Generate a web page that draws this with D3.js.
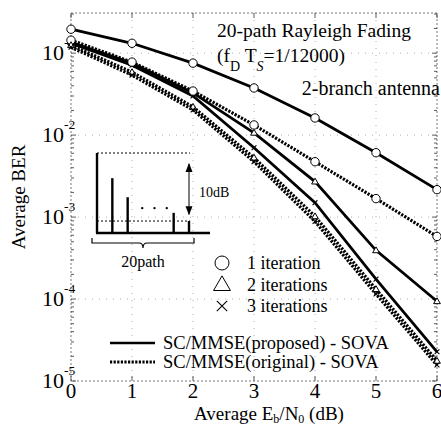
<!DOCTYPE html>
<html><head><meta charset="utf-8">
<script src="https://cdn.jsdelivr.net/npm/d3@7"></script>
<style>body{margin:0;background:#fff}svg{display:block}text{font-family:"Liberation Serif","Times New Roman",serif;fill:#000}</style>
</head><body><svg id="c" width="441" height="426"></svg>
<script>
// ---- data ----
const ebn0 = [0,1,2,3,4,5,6];
const propIter1 = [0.196,0.132,0.0756,0.0376,0.0162,0.0061,0.00216];
const propIter2 = [0.136,0.0756,0.0327,0.01067,0.00271,0.000393,0.000094];
const propIter3 = [0.132,0.0714,0.0301,0.00702,0.00150,0.000175,0.0000227];
const origIter1 = [0.144,0.0778,0.0345,0.0133,0.00474,0.00168,0.00058];
const origIter2 = [0.125,0.0587,0.0221,0.0053,0.00102,0.000132,0.0000176];
const origIter3 = [0.118,0.054,0.0203,0.00474,0.000885,0.000115,0.0000157];
const xTicks = [0,1,2,3,4,5,6];
const yTickExp = [-1,-2,-3,-4,-5];
const iterLabels = ["1 iteration","2 iterations","3 iterations"];
const schemeLabels = ["SC/MMSE(proposed) - SOVA","SC/MMSE(original) - SOVA"];
// inset power-delay profile (schematic)
const insetPos = [0,1,2,5,6];
const insetDb = [0,-3.7,-6.5,-8.8,-10];
const insetDots = [2.95,3.75,4.55];

const svg = d3.select("#c");
const L=71, R=437, T=13, B=381;
const x = d3.scaleLinear().domain([0,6]).range([L,R]);
const y = d3.scaleLog().domain([1e-5, Math.pow(10,-0.51)]).range([B,T]);

// grid
const g = svg.append("g");
xTicks.forEach(v=>{ if(v>0&&v<6) g.append("line").attr("x1",x(v)).attr("x2",x(v)).attr("y1",T).attr("y2",B)
  .attr("stroke","#999").attr("stroke-width",0.8).attr("stroke-dasharray","1,6");});
yTickExp.forEach(e=>{ if(e>-5) g.append("line").attr("x1",L).attr("x2",R).attr("y1",y(Math.pow(10,e))).attr("y2",y(Math.pow(10,e)))
  .attr("stroke","#999").attr("stroke-width",0.8).attr("stroke-dasharray","1,6");});
// frame
g.append("rect").attr("x",L).attr("y",T).attr("width",R-L).attr("height",B-T).attr("fill","none")
  .attr("stroke","#555").attr("stroke-width",0.8).attr("stroke-dasharray","2,2");
// minor ticks
const minors=[];
for(let e=-5;e<0;e++) for(let m=1;m<10;m++){const v=m*Math.pow(10,e); if(v<=Math.pow(10,-0.51)) minors.push({v,major:m===1});}
minors.forEach(d=>{
  const len=d.major?5:3;
  g.append("line").attr("x1",L).attr("x2",L+len).attr("y1",y(d.v)).attr("y2",y(d.v)).attr("stroke","#333").attr("stroke-width",0.8);
  g.append("line").attr("x1",R).attr("x2",R-len).attr("y1",y(d.v)).attr("y2",y(d.v)).attr("stroke","#333").attr("stroke-width",0.8);
});
xTicks.forEach(v=>{
  g.append("line").attr("x1",x(v)).attr("x2",x(v)).attr("y1",B).attr("y2",B-5).attr("stroke","#333").attr("stroke-width",0.8);
  g.append("line").attr("x1",x(v)).attr("x2",x(v)).attr("y1",T).attr("y2",T+5).attr("stroke","#333").attr("stroke-width",0.8);
});

// tick labels
xTicks.forEach(v=>{
  svg.append("text").attr("x",x(v)).attr("y",398).attr("text-anchor","middle").attr("font-size",21).text(v);
});
yTickExp.forEach(e=>{
  svg.append("text").attr("x",64).attr("y",y(Math.pow(10,e))+7).attr("text-anchor","end").attr("font-size",22).text("10");
  svg.append("text").attr("x",64).attr("y",y(Math.pow(10,e))-6).attr("font-size",13.5).text("-"+(-e));
});

// axis titles
const xl = svg.append("text").attr("x",269).attr("y",420).attr("text-anchor","middle").attr("font-size",19);
xl.append("tspan").text("Average E");
xl.append("tspan").attr("dy",3).attr("font-size",12).text("b");
xl.append("tspan").attr("dy",-3).text("/N");
xl.append("tspan").attr("dy",3).attr("font-size",12).text("0");
xl.append("tspan").attr("dy",-3).text(" (dB)");
svg.append("text").attr("transform","translate(25,197) rotate(-90)").attr("text-anchor","middle").attr("font-size",19).text("Average BER");

// curves
const line = d3.line().x((d,i)=>x(ebn0[i])).y(d=>y(d));
const DASH="2.2,1.4";
const series = [
  {v:propIter1,dash:null,mk:"o"},{v:propIter2,dash:null,mk:"t"},{v:propIter3,dash:null,mk:"x"},
  {v:origIter1,dash:DASH,mk:"o"},{v:origIter2,dash:DASH,mk:"t"},{v:origIter3,dash:DASH,mk:"x"}
];
const cg = svg.append("g");
series.forEach(s=>{
  cg.append("path").attr("d",line(s.v)).attr("fill","none").attr("stroke","#000")
   .attr("stroke-width",s.dash?3.2:2.8).attr("stroke-dasharray",s.dash);
});
function marker(sel,type,cx,cy,r){
  if(type==="o") sel.append("circle").attr("cx",cx).attr("cy",cy).attr("r",r).attr("fill","#fff").attr("stroke","#000").attr("stroke-width",1);
  else if(type==="t") sel.append("path").attr("d",d3.symbol(d3.symbolTriangle,r*r*2.2)()).attr("transform",`translate(${cx},${cy+r*0.15})`).attr("fill","#fff").attr("stroke","#000").attr("stroke-width",1);
  else sel.append("path").attr("d",`M${cx-r*0.8},${cy-r*0.8}L${cx+r*0.8},${cy+r*0.8}M${cx-r*0.8},${cy+r*0.8}L${cx+r*0.8},${cy-r*0.8}`).attr("stroke","#000").attr("stroke-width",1.1);
}
series.forEach(s=>{ s.v.forEach((d,i)=>marker(cg,s.mk,x(ebn0[i]),y(d),s.mk==="o"?4.2:3)); });

// annotations
svg.append("text").attr("x",217).attr("y",37).attr("font-size",19.5).text("20-path Rayleigh Fading");
const fd = svg.append("text").attr("x",217).attr("y",62).attr("font-size",19.5);
fd.append("tspan").text("(f");
fd.append("tspan").attr("dy",9).attr("font-size",14).text("D");
fd.append("tspan").attr("dy",-9).text(" T");
fd.append("tspan").attr("dy",9).attr("font-size",14).attr("font-style","italic").text("S");
fd.append("tspan").attr("dy",-9).text("=1/12000)");
svg.append("text").attr("x",440).attr("y",95).attr("text-anchor","end").attr("font-size",20).text("2-branch antenna");

// legend
const lg = svg.append("g");
["o","t","x"].forEach((m,i)=>{
  const ly = 263 + i*21.5;
  marker(lg,m,222,ly,m==="o"?7:m==="t"?7.5:6.5);
  lg.append("text").attr("x",247).attr("y",ly+6).attr("font-size",18).text(iterLabels[i]);
});
[null,DASH].forEach((d,i)=>{
  const ly = 343 + i*19;
  lg.append("line").attr("x1",110).attr("x2",155).attr("y1",ly).attr("y2",ly).attr("stroke","#000").attr("stroke-width",d?2.8:2.4).attr("stroke-dasharray",d);
  lg.append("text").attr("x",163).attr("y",ly+6).attr("font-size",18.5).text(schemeLabels[i]);
});

// inset
const ix = d3.scaleLinear().domain([0,6]).range([97,189]);
const iy = d3.scaleLinear().domain([-11.76,0]).range([233,153]);
const ig = svg.append("g");
ig.append("line").attr("x1",96).attr("x2",210).attr("y1",iy(-11.76)).attr("y2",iy(-11.76)).attr("stroke","#000").attr("stroke-width",2.4);
insetPos.forEach((p,i)=>{
  ig.append("line").attr("x1",ix(p)).attr("x2",ix(p)).attr("y1",iy(-11.76)).attr("y2",iy(insetDb[i])).attr("stroke","#000").attr("stroke-width",2.4);
});
[0,-10].forEach(v=>ig.append("line").attr("x1",ix(0)).attr("x2",ix(6)+1).attr("y1",iy(v)).attr("y2",iy(v)).attr("stroke","#000").attr("stroke-width",1).attr("stroke-dasharray","2,2"));
insetDots.forEach(p=>ig.append("circle").attr("cx",ix(p)).attr("cy",iy(-8.1)).attr("r",1.2).attr("fill","#000"));
ig.append("line").attr("x1",ix(6)).attr("x2",ix(6)).attr("y1",iy(-1.6)).attr("y2",iy(-9.0)).attr("stroke","#000").attr("stroke-width",1);
ig.append("path").attr("d",`M${ix(6)},${iy(-1.6)-1}l-3.5,9h7z`).attr("fill","#000");
ig.append("path").attr("d",`M${ix(6)},${iy(-9.0)+1}l-3.5,-9h7z`).attr("fill","#000");
ig.append("text").attr("x",199).attr("y",197).attr("font-size",14).text("10dB");
// brace
ig.append("path").attr("d","M92,238 L92,243 L139,243 Q143,243 143,248 Q143,243 147,243 L194,243 L194,238")
  .attr("fill","none").attr("stroke","#000").attr("stroke-width",1.2);
ig.append("text").attr("x",143).attr("y",267).attr("text-anchor","middle").attr("font-size",16).text("20path");
</script></body></html>
